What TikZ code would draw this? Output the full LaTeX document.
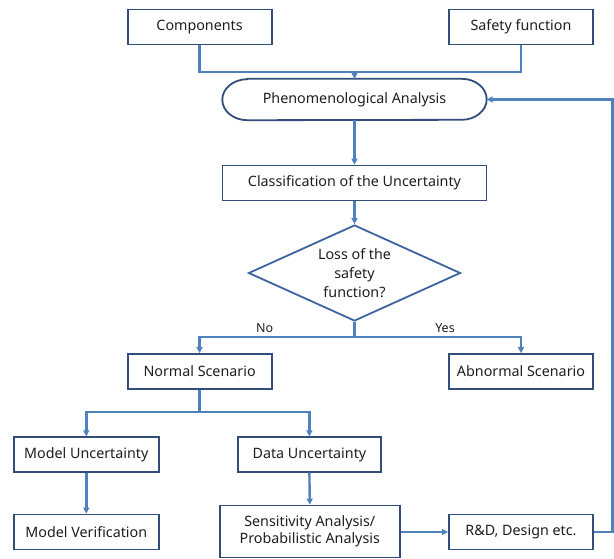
\documentclass[tikz,border=0pt]{standalone}
\usepackage{fontspec}
\setmainfont{Noto Sans}
\usetikzlibrary{shapes.geometric,arrows.meta,positioning}
\definecolor{boxc}{RGB}{50,78,120}
\definecolor{linec}{RGB}{79,129,189}
\definecolor{dmc}{RGB}{60,100,160}
\definecolor{txt}{RGB}{30,30,30}
\begin{document}
\begin{tikzpicture}[x=1pt,y=-1pt,
  every node/.style={font=\fontsize{14.3}{17.5}\selectfont,text=txt},
  box/.style={draw=boxc,line width=1.8pt,minimum width=144pt,minimum height=35pt,inner sep=0pt,align=center},
  term/.style={minimum width=264pt,minimum height=41pt,inner sep=0pt},
  dec/.style={draw=dmc,line width=1.8pt,shape=diamond,aspect=2.2,minimum width=212pt,minimum height=96pt,inner sep=0pt,align=center,font=\fontsize{14.3}{19}\selectfont},
  conn/.style={draw=linec,line width=2.4pt},
  arr/.style={conn,-{Triangle[length=6pt,width=6pt]}},
  lab/.style={font=\fontsize{12.5}{15}\selectfont}
]
\useasboundingbox (0,0) rectangle (614,558);
\node[box] (comp) at (199.6,27) {Components};
\node[box] (safe) at (521,27) {Safety function};
\node[term] (phen) at (354.5,99.5) {Phenomenological Analysis};
\draw[draw=boxc,line width=1.8pt] ([xshift=25pt]phen.north west) -- ([xshift=-25pt]phen.north east)
  arc[start angle=90,end angle=-90,x radius=25pt,y radius=20.5pt]
  -- ([xshift=25pt]phen.south west)
  arc[start angle=270,end angle=90,x radius=25pt,y radius=20.5pt] -- cycle;
\node[box,minimum width=264pt] (cls) at (354.5,183) {Classification of the Uncertainty};
\node[dec] (dia) at (354.5,273) {Loss of the\\safety\\function?};
\node[box] (norm) at (199.6,371.5) {Normal Scenario};
\node[box] (abn) at (521,371.5) {Abnormal Scenario};
\node[box,minimum width=145pt,minimum height=34.5pt] (mu) at (86.3,454.5) {Model Uncertainty};
\node[box,minimum width=143.5pt,minimum height=34.5pt] (du) at (309.4,454.5) {Data Uncertainty};
\node[box,minimum width=145pt] (mv) at (86.3,532) {Model Verification};
\node[box,minimum width=180pt,minimum height=52pt] (sa) at (309.8,531.5) {Sensitivity Analysis/\\Probabilistic Analysis};
\node[box] (rd) at (521,532) {R\&D, Design etc.};
\coordinate (j1) at (354.5,71.8);
\coordinate (j2) at (354.5,336.7);
\coordinate (j3) at (199.6,412);
\coordinate (fb) at (612.5,532);
\draw[conn] (comp.south) |- (j1) -| (safe.south);
\draw[arr] (j1) -- (phen.north);
\draw[arr] (phen.south) -- (cls.north);
\draw[arr] (cls.south) -- (dia.north);
\draw[conn] (dia.south) -- (j2);
\draw[arr] (j2) -| (norm.north);
\draw[arr] (j2) -| (abn.north);
\node[lab] (no) at (264.7,328) {No};
\node[lab] (yes) at (445,328) {Yes};
\draw[conn] (norm.south) -- (j3);
\draw[arr] (j3) -| (mu.north);
\draw[arr] (j3) -| (du.north);
\draw[arr] (mu.south) -- (mv.north);
\draw[arr] (du.south) -- (sa.north);
\draw[arr] (sa.east |- rd.west) -- (rd.west);
\draw[arr] (rd.east) -- (fb) |- (phen.east);
\end{tikzpicture}
\end{document}
